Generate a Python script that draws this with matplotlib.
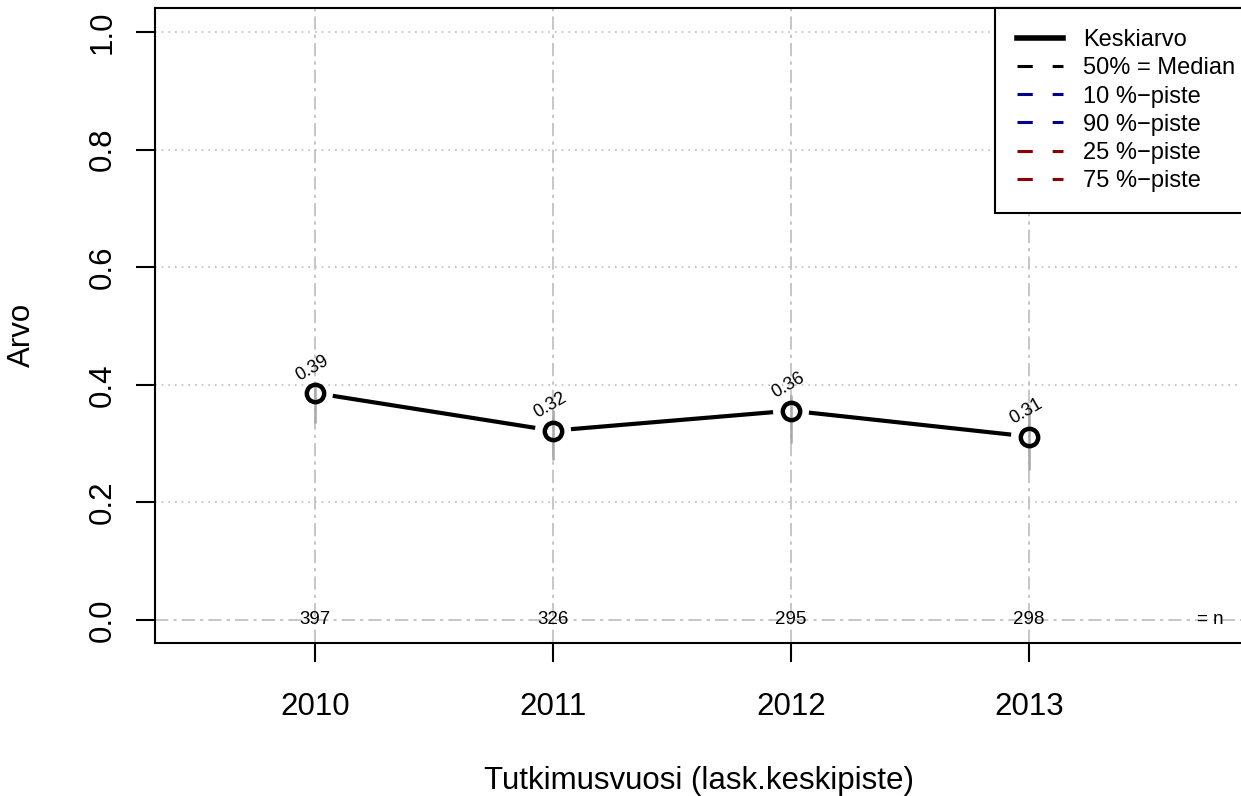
import matplotlib
matplotlib.use('Agg')
import matplotlib.pyplot as plt
from matplotlib.lines import Line2D
import numpy as np

plt.rcParams['font.family'] = ['Liberation Sans', 'DejaVu Sans']

# data
years = [2010, 2011, 2012, 2013]
means = [0.386, 0.322, 0.356, 0.312]
mean_labels = ['0.39', '0.32', '0.36', '0.31']
ci_low = [0.335, 0.272, 0.301, 0.255]
ci_high = [0.403, 0.357, 0.383, 0.366]
n_counts = [397, 326, 295, 298]
y_ticks = [0.0, 0.2, 0.4, 0.6, 0.8, 1.0]

legend_labels = ['Keskiarvo', '50% = Median', '10 %\u2212piste', '90 %\u2212piste',
                 '25 %\u2212piste', '75 %\u2212piste']
legend_colors = ['black', 'black', '#00008B', '#00008B', '#8B0000', '#8B0000']

W, H = 1241, 796
fig = plt.figure(figsize=(W / 100, H / 100), dpi=100)
ax = fig.add_axes([155 / W, 1 - 643 / H, (1243 - 155) / W, (643 - 8) / H])

ax.set_xlim(2010 - 160 / 238, 2010 + (1243 - 315) / 238)
ax.set_ylim(-23 / 588, 1 + 24 / 588)

# grid lines
for y in y_ticks[1:]:
    ax.axhline(y, color='#BEBEBE', lw=1.2, ls=(0, (1, 3)), zorder=1)
ax.axhline(0, color='#BEBEBE', lw=1.2, ls=(0, (8, 3, 2, 3)), zorder=1)
for x in years:
    ax.axvline(x, color='#BEBEBE', lw=1.2, ls=(0, (8, 3, 2, 3)), zorder=1)

# interval bars
ax.vlines(years, ci_low, ci_high, color='#A8A8A8', lw=1.8, zorder=2)

# mean line with gaps around the points (like R type="b")
fig.canvas.draw()
gap = 18
pts = ax.transData.transform(np.column_stack([years, means]))
for i in range(len(years) - 1):
    p0, p1 = pts[i], pts[i + 1]
    d = (p1 - p0) / np.hypot(*(p1 - p0))
    seg = ax.transData.inverted().transform([p0 + d * gap, p1 - d * gap])
    ax.plot(seg[:, 0], seg[:, 1], color='black', lw=3, solid_capstyle='butt', zorder=3)
ax.plot(years, means, ls='none', marker='o', ms=12.5, mfc='none', mec='black', mew=3.2, zorder=4)

for x, y, lab in zip(years, means, mean_labels):
    ax.annotate(lab, (x, y), xytext=(-2, 18), textcoords='offset points', ha='center',
                va='center', rotation=30, fontsize=13, zorder=5)

for x, n in zip(years, n_counts):
    ax.text(x, 0, str(n), ha='center', va='center', fontsize=13.5, zorder=5)
ax.text(2013.76, 0, '= n', ha='center', va='center', fontsize=13.5, zorder=5)

ax.set_xticks(years)
ax.set_xticklabels([str(y) for y in years])
ax.set_yticks(y_ticks)
ax.set_yticklabels(['%.1f' % v for v in y_ticks], rotation=90, va='center')
ax.tick_params(axis='both', labelsize=22.5, length=14, width=1.5, direction='out')
ax.tick_params(axis='x', pad=21)
ax.tick_params(axis='y', pad=13)
for s in ax.spines.values():
    s.set_linewidth(1.5)

ax.set_xlabel('Tutkimusvuosi (lask.keskipiste)', fontsize=22.5, labelpad=32)
fig.text(22 / W, 1 - 335 / H, 'Arvo', rotation=90, ha='center', va='center', fontsize=22.5)

handles = []
for i, c in enumerate(legend_colors):
    if i == 0:
        handles.append(Line2D([], [], color=c, lw=4))
    else:
        handles.append(Line2D([], [], color=c, lw=2.2, ls=(0, (5, 6.5))))
leg = ax.legend(handles, legend_labels, loc='upper right', bbox_to_anchor=(1.012, 1.0),
                fontsize=17, frameon=True, fancybox=False, edgecolor='black',
                framealpha=1, borderaxespad=0, handlelength=1.95, handletextpad=0.85,
                labelspacing=0.26, borderpad=0.9)
leg.get_frame().set_linewidth(1.5)

fig.savefig('out.png', dpi=100)
